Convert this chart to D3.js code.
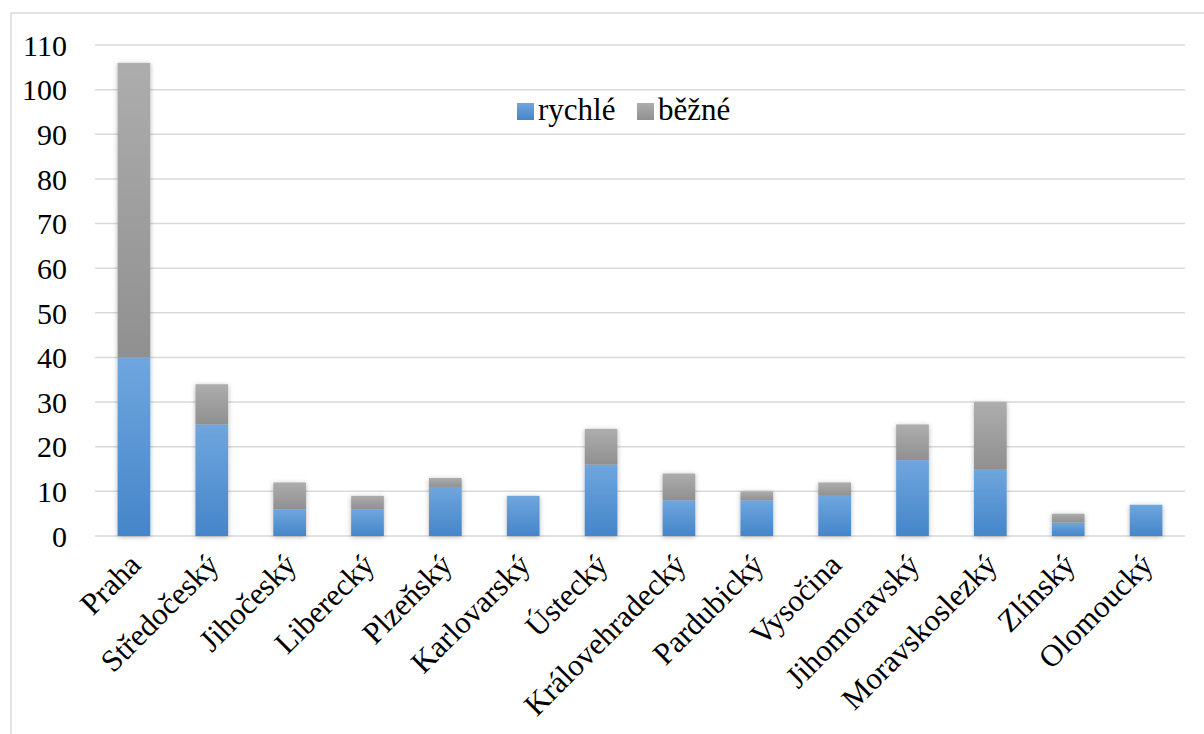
<!DOCTYPE html>
<html><head><meta charset="utf-8">
<script src="https://cdn.jsdelivr.net/npm/d3@7/dist/d3.min.js"></script>
<style>
html,body{margin:0;padding:0;background:#fff;}
</style></head>
<body>
<svg id="chart" width="1204" height="734"></svg>
<script>
const categories = ["Praha","Středočeský","Jihočeský","Liberecký","Plzeňský","Karlovarský","Ústecký","Královehradecký","Pardubický","Vysočina","Jihomoravský","Moravskoslezký","Zlínský","Olomoucký"];
const rychle = [40,25,6,6,11,9,16,8,8,9,17,15,3,7];
const bezne  = [66,9,6,3,2,0,8,6,2,3,8,15,2,0];
const seriesNames = ["rychlé","běžné"];
const yTicks = [0,10,20,30,40,50,60,70,80,90,100,110];

const FONT = '"Liberation Serif"';
const svg = d3.select("#chart");
const defs = svg.append("defs");
function grad(id, c1, c2){
  const g = defs.append("linearGradient").attr("id",id).attr("x1",0).attr("y1",0).attr("x2",0).attr("y2",1);
  g.append("stop").attr("offset","0%").attr("stop-color",c1);
  g.append("stop").attr("offset","100%").attr("stop-color",c2);
}
grad("gBlue","#6fa6de","#4585c9");
grad("gGray","#adadad","#909090");
const f = defs.append("filter").attr("id","shadow").attr("x","-30%").attr("y","-10%").attr("width","160%").attr("height","130%");
f.append("feDropShadow").attr("dx",0).attr("dy",1).attr("stdDeviation",2.5).attr("flood-color","#000").attr("flood-opacity",0.28);

// outer frame
svg.append("line").attr("x1",11).attr("y1",13).attr("x2",1204).attr("y2",13).attr("stroke","#d9d9d9").attr("stroke-width",1.5);
svg.append("line").attr("x1",11).attr("y1",13).attr("x2",11).attr("y2",734).attr("stroke","#d9d9d9").attr("stroke-width",1.5);

const x = d3.scaleBand().domain(categories).range([95,1185]).paddingInner(0.58).paddingOuter(0.29);
const y = d3.scaleLinear().domain([0,110]).range([536,45]);

// gridlines
svg.append("g").selectAll("line").data(yTicks).join("line")
  .attr("x1",95).attr("x2",1185).attr("y1",d=>y(d)).attr("y2",d=>y(d))
  .attr("stroke","#d9d9d9").attr("stroke-width",1.5);

// y axis labels
const yAxis = d3.axisLeft(y).tickValues(yTicks).tickSize(0).tickPadding(0);
const ya = svg.append("g").attr("transform","translate(67,0)").call(yAxis);
ya.attr("font-family", null).attr("font-size", null);
ya.select(".domain").remove();
ya.selectAll("text").attr("fill","#000").attr("dy","0.34em").style("font-family", FONT).style("font-size","30px");

// stacked bars
const data = categories.map((c,i)=>({cat:c, rychle:rychle[i], bezne:bezne[i]}));
const stack = d3.stack().keys(["rychle","bezne"])(data);
const fills = ["url(#gBlue)","url(#gGray)"];
const bars = svg.append("g").attr("filter","url(#shadow)");
stack.forEach((layer,li)=>{
  bars.append("g").selectAll("rect").data(layer.filter(d=>d[1]-d[0]>0)).join("rect")
    .attr("x",d=>x(d.data.cat)).attr("width",x.bandwidth())
    .attr("y",d=>y(d[1])).attr("height",d=>y(d[0])-y(d[1]))
    .attr("fill",fills[li]);
});

// x labels
svg.append("g").selectAll("text").data(categories).join("text")
  .attr("transform",d=>`translate(${x(d)+x.bandwidth()/2+1},${559}) rotate(-45)`)
  .attr("text-anchor","end").attr("dy","0.35em")
  .style("font-family", FONT).style("font-size","31px").attr("fill","#000").text(d=>d);

// legend
const lg = svg.append("g");
const legendItems = [{name:seriesNames[0], fill:"url(#gBlue)", x:517},{name:seriesNames[1], fill:"url(#gGray)", x:637}];
legendItems.forEach(it=>{
  lg.append("rect").attr("x",it.x).attr("y",103).attr("width",17).attr("height",17).attr("fill",it.fill);
  lg.append("text").attr("x",it.x+21).attr("y",120).style("font-family", FONT).style("font-size","31px").attr("fill","#000").text(it.name);
});
</script>
</body></html>
